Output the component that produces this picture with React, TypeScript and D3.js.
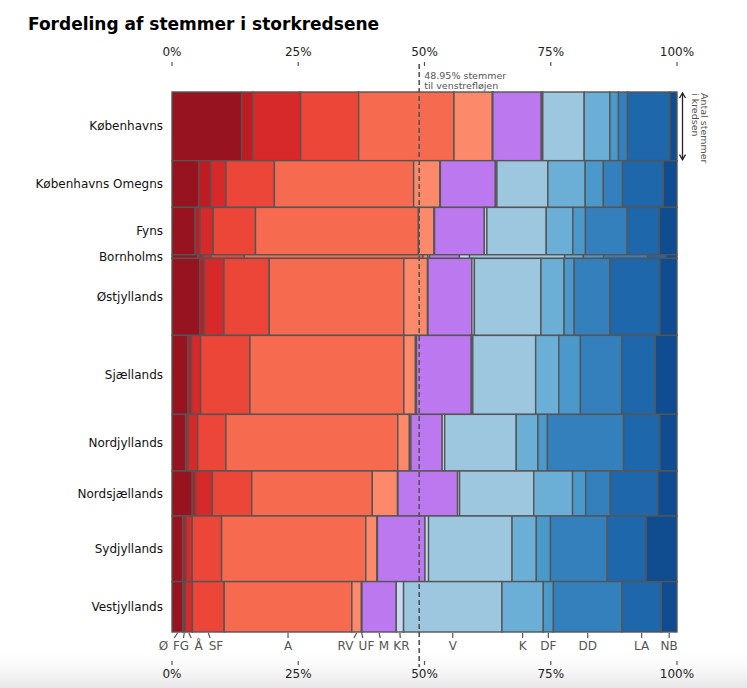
import React from "react";
import * as d3 from "d3";

const W = 747;
const H = 688;

const parties = ["Ø", "FG", "Å", "SF", "A", "RV", "UF", "M", "KR", "V", "K", "DF", "DD", "LA", "NB"];
const partyColors = [
  "#97131f", "#bf1b22", "#d7292a", "#eb4638", "#f66a4f", "#fc8a6a", "#fcb39a",
  "#bc79ef", "#c6dbef", "#9dc6df", "#6baed6", "#4b98cb", "#3480bd", "#1f67ab", "#0f4c90",
];

const districts = [
  "Københavns", "Københavns Omegns", "Fyns", "Bornholms", "Østjyllands",
  "Sjællands", "Nordjyllands", "Nordsjællands", "Sydjyllands", "Vestjyllands",
];
// votes cast per storkreds (thousands, estimated)
const votesK = [560, 381, 386, 30, 628, 644, 462, 367, 535, 411];

// party shares in % per storkreds (order = parties)
const shKobenhavn = [13.8, 2.2, 9.5, 11.5, 18.9, 7.6, 0.1, 9.6, 0.3, 8.2, 5.1, 1.7, 1.8, 8.4, 1.4];
const shOmegn = [5.3, 2.4, 3.0, 9.6, 27.6, 5.2, 0.1, 10.9, 0.3, 10.1, 7.4, 3.6, 3.8, 8.1, 2.7];
const shFyn = [4.6, 1.0, 2.6, 8.4, 32.4, 3.1, 0.1, 9.9, 0.5, 11.8, 5.3, 2.5, 8.3, 6.4, 3.5];
const shBornholm = [5.1, 1.0, 1.6, 6.6, 35.3, 1.0, 0.3, 5.9, 2.0, 18.8, 3.7, 4.0, 8.7, 3.6, 2.2];
const shOstjylland = [5.5, 0.9, 3.9, 9.0, 26.7, 4.7, 0.1, 8.7, 0.5, 13.2, 4.6, 2.0, 7.1, 9.9, 3.4];
const shSjaelland = [3.2, 0.7, 1.8, 9.8, 30.6, 2.3, 0.2, 10.9, 0.3, 12.5, 4.6, 4.3, 8.2, 6.7, 4.3];
const shNordjylland = [2.7, 0.5, 1.9, 5.6, 34.1, 2.3, 0.3, 6.2, 0.5, 14.2, 4.3, 1.9, 15.1, 7.2, 3.4];
const shNordsjaelland = [4.0, 0.7, 3.3, 7.8, 23.9, 5.0, 0.1, 11.8, 0.4, 14.7, 7.7, 2.6, 4.9, 9.4, 3.8];
const shSydjylland = [2.1, 0.7, 1.2, 5.8, 28.5, 2.2, 0.1, 9.4, 0.7, 16.5, 4.8, 2.8, 11.2, 7.7, 6.1];
const shVestjylland = [2.2, 0.45, 1.4, 6.3, 25.3, 1.9, 0.1, 6.8, 1.45, 19.5, 8.2, 2.0, 13.6, 7.8, 3.1];

const shareRows = [
  shKobenhavn, shOmegn, shFyn, shBornholm, shOstjylland,
  shSjaelland, shNordjylland, shNordsjaelland, shSydjylland, shVestjylland,
];

const axisTicks = [0, 25, 50, 75, 100];
const leftShare = 48.95;

const FONT = "DejaVu Sans, sans-serif";

function textWidth(s: string) {
  return s.length * 8 + (s.length === 1 ? 1 : 0);
}

export default function App() {
  const margin = { left: 172, right: 70, top: 92, bottom: 56 };
  const x = d3.scaleLinear().domain([0, 100]).range([margin.left, W - margin.right]);
  const totalVotes = d3.sum(votesK);
  const y = d3.scaleLinear().domain([0, totalVotes]).range([margin.top, H - margin.bottom]);
  const rowStarts = [0, ...Array.from(d3.cumsum(votesK))];

  const rows = districts.map((name, i) => {
    const shares = shareRows[i];
    const tot = d3.sum(shares);
    const cum = Array.from(d3.cumsum(shares)).map((c) => (c / tot) * 100);
    const segs = shares.map((s, j) => ({
      party: parties[j],
      color: partyColors[j],
      x0: j === 0 ? 0 : cum[j - 1],
      x1: cum[j],
    }));
    return { name, segs, y0: y(rowStarts[i]), y1: y(rowStarts[i + 1]) };
  });

  const plotBottom = y(totalVotes);

  // bottom party labels from last row, with simple relaxation to avoid overlap
  const last = rows[rows.length - 1];
  const mids = last.segs.map((s) => x((s.x0 + s.x1) / 2));
  const widths = parties.map(textWidth);
  const pos = mids.slice();
  const gap = 5;
  for (let it = 0; it < 400; it++) {
    for (let i = 0; i < pos.length - 1; i++) {
      const need = (widths[i] + widths[i + 1]) / 2 + gap;
      const d = pos[i + 1] - pos[i];
      if (d < need) {
        const sh = (need - d) / 2;
        pos[i] -= sh;
        pos[i + 1] += sh;
      }
    }
  }

  const arrowX = x(100) + 5.5;
  const r0 = rows[0];
  const dashX = x(leftShare);

  return (
    <svg
      width={W}
      height={H}
      style={{ position: "absolute", left: 0, top: 0, background: "#fff" }}
      fontFamily={FONT}
    >
      <defs>
        <linearGradient id="fade" x1="0" y1="0" x2="0" y2="1">
          <stop offset="0" stopColor="#ffffff" stopOpacity="0" />
          <stop offset="1" stopColor="#e6e6e6" stopOpacity="1" />
        </linearGradient>
      </defs>
      <rect x={0} y={0} width={W} height={H} fill="#fff" />
      <rect x={0} y={646} width={W} height={H - 646} fill="url(#fade)" />

      <text x={28} y={30} fontSize={17} fontWeight="bold" fill="#000">
        Fordeling af stemmer i storkredsene
      </text>

      {/* top axis */}
      {axisTicks.map((t) => (
        <g key={"tt" + t}>
          <text x={x(t)} y={56} fontSize={12} textAnchor="middle" fill="#222">
            {t}%
          </text>
          <line x1={x(t)} x2={x(t)} y1={62} y2={66} stroke="#555" strokeWidth={1.2} />
        </g>
      ))}

      {/* bars */}
      {rows.map((r) => (
        <g key={r.name}>
          {r.segs.map((s) => (
            <rect
              key={s.party}
              x={x(s.x0)}
              y={r.y0}
              width={Math.max(0, x(s.x1) - x(s.x0))}
              height={r.y1 - r.y0}
              fill={s.color}
              stroke="#555"
              strokeWidth={1.4}
            />
          ))}
          <text
            x={margin.left - 9}
            y={(r.y0 + r.y1) / 2}
            fontSize={12}
            textAnchor="end"
            dominantBaseline="central"
            fill="#111"
          >
            {r.name}
          </text>
        </g>
      ))}

      {/* dashed left-wing line */}
      <line
        x1={dashX}
        x2={dashX}
        y1={64}
        y2={667}
        stroke="#555"
        strokeWidth={1.6}
        strokeDasharray="5,3"
      />
      <text x={dashX + 5} y={79} fontSize={9.5} fill="#555">
        {leftShare}% stemmer
      </text>
      <text x={dashX + 5} y={89} fontSize={9.5} fill="#555">
        til venstrefløjen
      </text>

      {/* right arrow annotation */}
      <g stroke="#222" strokeWidth={1.3} fill="none">
        <line x1={arrowX} x2={arrowX} y1={r0.y0 + 1} y2={r0.y1 - 1} />
        <path d={`M${arrowX - 3},${r0.y0 + 6} L${arrowX},${r0.y0 + 1} L${arrowX + 3},${r0.y0 + 6}`} />
        <path d={`M${arrowX - 3},${r0.y1 - 6} L${arrowX},${r0.y1 - 1} L${arrowX + 3},${r0.y1 - 6}`} />
      </g>
      <text x={0} y={0} fontSize={9.5} fill="#555" transform={`translate(${arrowX + 18},${r0.y0 + 1}) rotate(90)`}>
        Antal stemmer
      </text>
      <text x={0} y={0} fontSize={9.5} fill="#555" transform={`translate(${arrowX + 9.5},${r0.y0 + 1}) rotate(90)`}>
        i kredsen
      </text>

      {/* bottom party labels */}
      {parties.map((p, i) => {
        const m = mids[i];
        const dx = ((pos[i] - m) * 5) / 21;
        return (
          <g key={"pl" + p}>
            <line x1={m} x2={m + dx} y1={plotBottom + 1} y2={plotBottom + 6} stroke="#555" strokeWidth={1.2} />
            <text x={pos[i]} y={650} fontSize={12} textAnchor="middle" fill="#555">
              {p}
            </text>
          </g>
        );
      })}

      {/* bottom axis */}
      {axisTicks.map((t) => (
        <g key={"bt" + t}>
          <line x1={x(t)} x2={x(t)} y1={661} y2={665} stroke="#555" strokeWidth={1.2} />
          <text x={x(t)} y={678} fontSize={12} textAnchor="middle" fill="#222">
            {t}%
          </text>
        </g>
      ))}
    </svg>
  );
}
